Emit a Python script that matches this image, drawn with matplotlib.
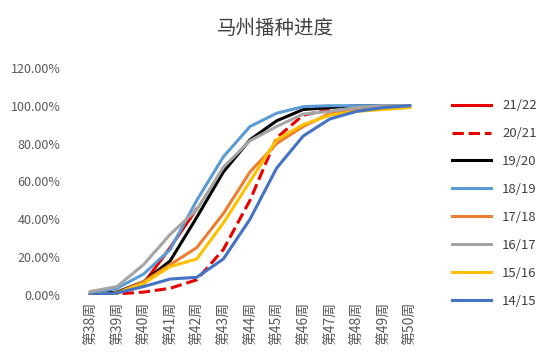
import matplotlib.pyplot as plt
from matplotlib.ticker import PercentFormatter

plt.rcParams['font.family'] = ['Noto Sans CJK SC', 'DejaVu Sans']

weeks = ['第%d周' % w for w in range(38, 51)]

# progress in %
s2122 = [0, 1, 6, 25, 45.5]
s2021 = [0, 0.5, 1.5, 3.5, 8, 24, 50, 83, 95, 98]
s1920 = [0.5, 1.5, 7, 18, 41, 65, 82, 92, 98, 99, 100, 100, 100]
s1819 = [1, 3.5, 11, 24, 50, 73, 89, 96, 99.5, 100, 100, 100, 100]
s1718 = [0, 1, 7, 16, 25, 43, 65, 80, 89, 96, 98, 99, 100]
s1617 = [1.8, 4.4, 16, 32, 45, 67.5, 81.5, 89, 95.6, 97, 99, 100, 100]
s1516 = [0, 1, 6, 15, 19, 38, 60, 82, 90, 95, 97, 98, 99]
s1415 = [0, 1, 4.4, 8.4, 9.3, 19, 40, 67, 84, 93, 97, 99, 100]

series = [
    ('21/22', s2122, '#E60000', '-'),
    ('20/21', s2021, '#E60000', '--'),
    ('19/20', s1920, '#000000', '-'),
    ('18/19', s1819, '#5B9BD5', '-'),
    ('17/18', s1718, '#ED7D31', '-'),
    ('16/17', s1617, '#A5A5A5', '-'),
    ('15/16', s1516, '#FFC000', '-'),
    ('14/15', s1415, '#4472C4', '-'),
]

fig = plt.figure(figsize=(5.5, 3.61), dpi=100)
ax = fig.add_axes([0.14, 0.183, 0.629, 0.629])

for name, vals, color, ls in series:
    ax.plot(range(len(vals)), vals, color=color, ls=ls, lw=2.2, label=name)

ax.set_xlim(-0.5, len(weeks) - 0.5)
ax.set_ylim(0, 120)
ax.set_yticks(range(0, 121, 20))
ax.yaxis.set_major_formatter(PercentFormatter(decimals=2))
ax.set_xticks(range(len(weeks)))
ax.set_xticklabels(weeks, rotation=90)
for s in ax.spines.values():
    s.set_visible(False)
ax.tick_params(length=0, colors='#595959', labelsize=9)
ax.tick_params(axis='x', labelsize=10, pad=5)
ax.tick_params(axis='y', pad=12)

fig.suptitle('马州播种进度', x=0.5, y=0.95, fontsize=14, color='#404040')

fig.legend(loc='upper left', bbox_to_anchor=(0.8, 0.758), frameon=False,
           fontsize=9.5, labelcolor='#404040', handlelength=3.0,
           labelspacing=1.13)

fig.savefig('out.png', dpi=100)
